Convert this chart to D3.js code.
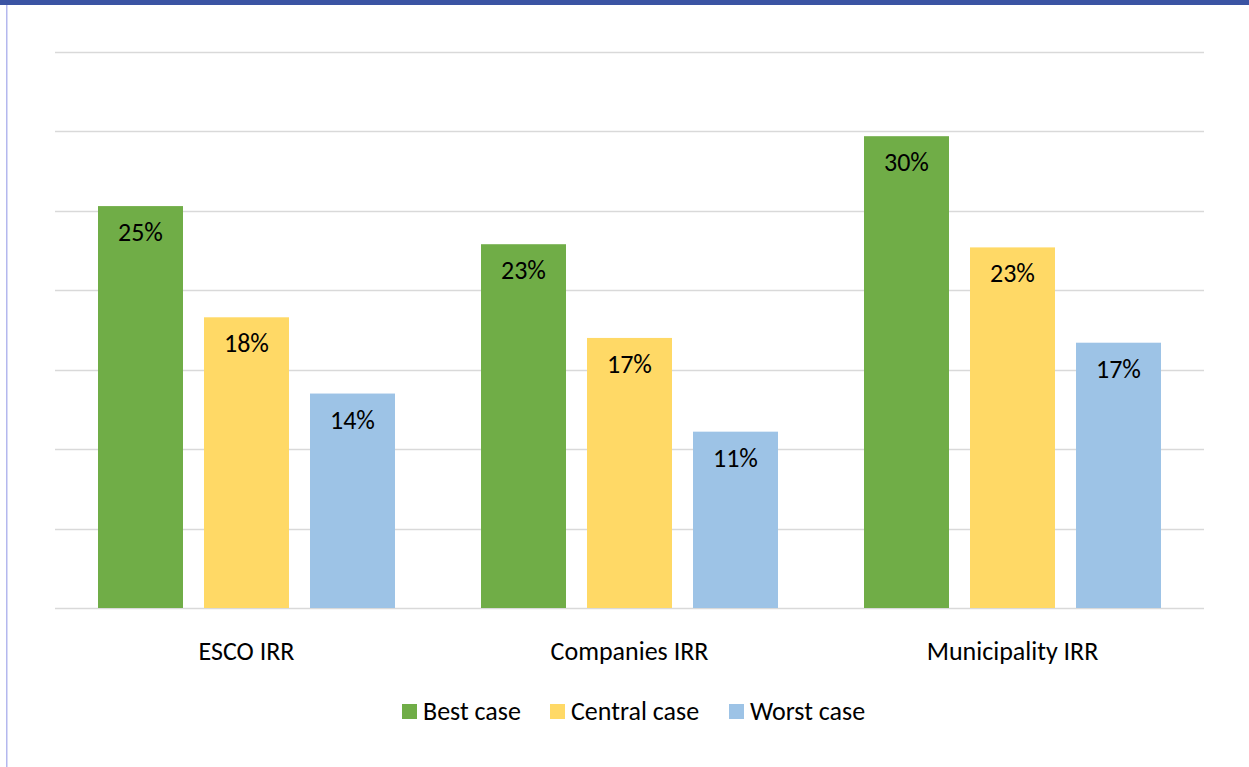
<!DOCTYPE html>
<html><head><meta charset="utf-8">
<script src="https://cdn.jsdelivr.net/npm/d3@7"></script>
<style>body{margin:0;background:#fff;}svg{display:block;}</style>
</head><body>
<script>
const categories = ["ESCO IRR", "Companies IRR", "Municipality IRR"];
const seriesNames = ["Best case", "Central case", "Worst case"];
const bestCase = [25.3, 22.9, 29.7];
const centralCase = [18.3, 17.0, 22.7];
const worstCase = [13.5, 11.1, 16.7];
const yTicks = [0, 5, 10, 15, 20, 25, 30, 35];
const colors = ["#70ad47", "#ffd966", "#9dc3e6"];

const W = 1249, H = 767;
const svg = d3.select("body").append("svg").attr("width", W).attr("height", H);
const font = "Calibri, Carlito, Lato, 'Open Sans', sans-serif";
const fs = 26;

svg.append("rect").attr("x", 0).attr("y", 0).attr("width", W).attr("height", 5).attr("fill", "#3b54a3");
svg.append("rect").attr("x", 6).attr("y", 5).attr("width", 1.5).attr("height", H - 5).attr("fill", "#b4b8ee");

const x0 = d3.scaleBand().domain(categories).range([55, 1204]).paddingInner(0).paddingOuter(0);
const y = d3.scaleLinear().domain([0, 35]).range([608, 52]);

svg.append("g").selectAll("line").data(yTicks).join("line")
  .attr("x1", 55).attr("x2", 1204)
  .attr("y1", d => Math.round(y(d)) + 0.5).attr("y2", d => Math.round(y(d)) + 0.5)
  .attr("stroke", "#d9d9d9").attr("stroke-width", 1.3);

const series = [bestCase, centralCase, worstCase];
const barW = 85, gap = 21;
const groupW = 3 * barW + 2 * gap;

categories.forEach((c, i) => {
  const gx = x0(c) + (x0.bandwidth() - groupW) / 2;
  series.forEach((s, j) => {
    const bx = gx + j * (barW + gap);
    svg.append("rect").attr("x", bx).attr("y", y(s[i])).attr("width", barW)
      .attr("height", y(0) - y(s[i])).attr("fill", colors[j]);
    svg.append("text").attr("x", bx + barW / 2).attr("y", y(s[i]) + 35)
      .attr("text-anchor", "middle").attr("font-family", font).attr("font-size", fs)
      .attr("fill", "#000").text(Math.round(s[i]) + "%");
  });
  svg.append("text").attr("x", x0(c) + x0.bandwidth() / 2).attr("y", 660)
    .attr("text-anchor", "middle").attr("font-family", font).attr("font-size", fs)
    .attr("fill", "#000").text(c);
});

// legend
const legendItems = [
  {name: seriesNames[0], x: 402},
  {name: seriesNames[1], x: 550},
  {name: seriesNames[2], x: 729}
];
legendItems.forEach((d, j) => {
  svg.append("rect").attr("x", d.x).attr("y", 704).attr("width", 15).attr("height", 15).attr("fill", colors[j]);
  svg.append("text").attr("x", d.x + 21).attr("y", 720).attr("font-family", font)
    .attr("font-size", fs).attr("fill", "#000").text(d.name);
});
</script>
</body></html>
